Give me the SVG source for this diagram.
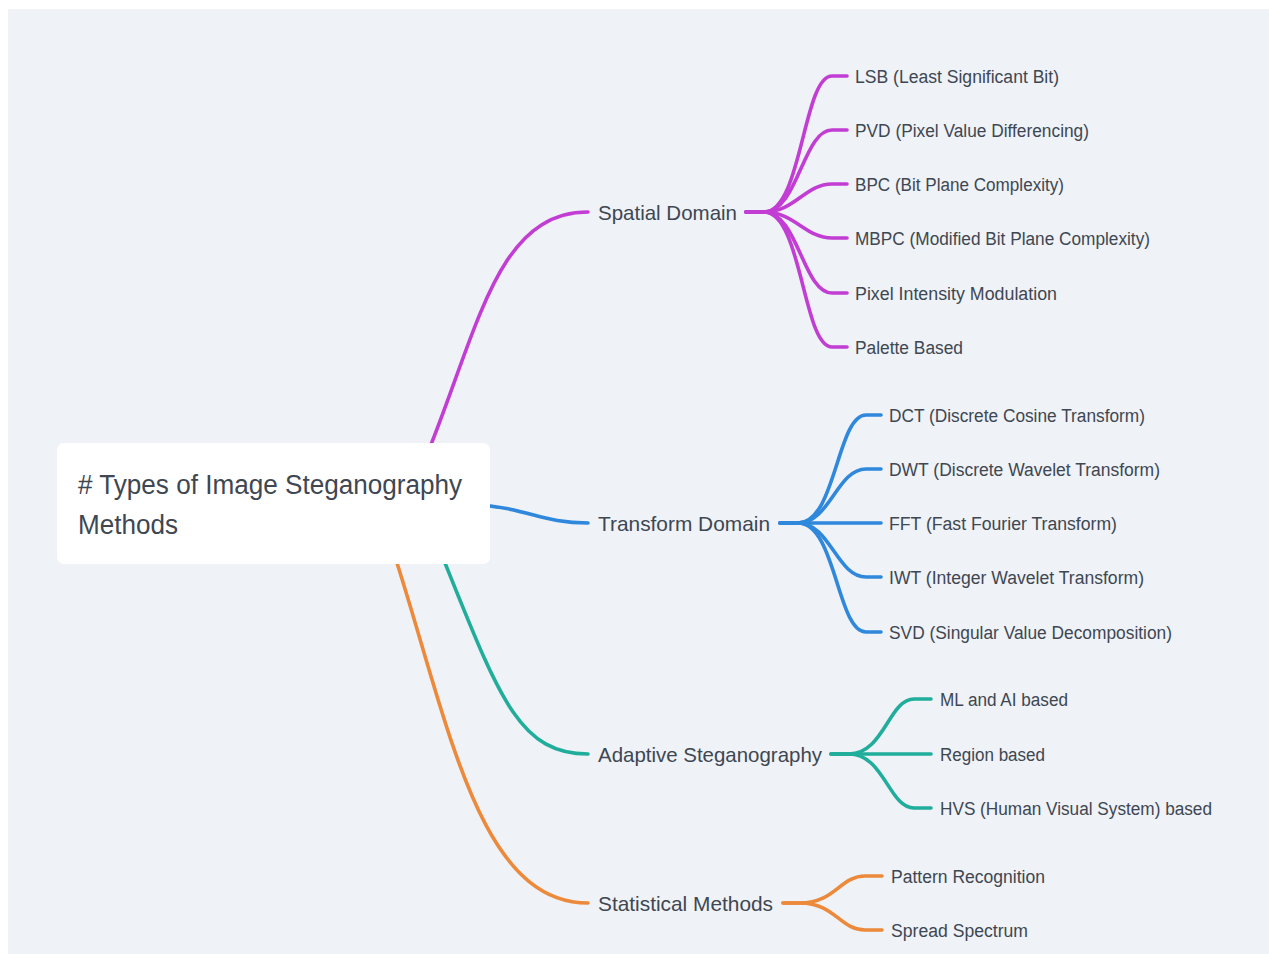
<svg xmlns="http://www.w3.org/2000/svg" width="1269" height="954" viewBox="0 0 1269 954">
<style>
.c{fill:none;stroke-width:3.6;stroke-linecap:round;stroke-linejoin:round}
.p{stroke:#c23dd3}.b{stroke:#2f88dc}.g{stroke:#21ad9b}.o{stroke:#ec893a}
text{font-family:"Liberation Sans",Arial,sans-serif;fill:#3e4752}
.t1{font-size:18px}
.t2{font-size:21px}
.t0{font-size:27px}
</style>
<rect x="0" y="0" width="1269" height="954" fill="#ffffff"/>
<rect x="8" y="9" width="1261" height="945" fill="#eff2f6"/>
<g id="connectors">
<path class="c p" d="M426 456 L432 442 C480 320 500 212 588 212"/>
<path class="c b" d="M470 504 C530 508 540 523 588 523"/>
<path class="c g" d="M438 548 L445 563 C500 700 520 754 588 754"/>
<path class="c o" d="M392 548 L397 563 C450 730 480 903 588 903"/>
<path class="c p" d="M746 212 L764 212 C802 212 803 76 832 76 L847 76"/>
<path class="c p" d="M746 212 L764 212 C798 212 803 130 832 130 L847 130"/>
<path class="c p" d="M746 212 L764 212 C795 212 805 184 832 184 L847 184"/>
<path class="c p" d="M746 212 L764 212 C795 212 805 238 832 238 L847 238"/>
<path class="c p" d="M746 212 L764 212 C798 212 803 293 832 293 L847 293"/>
<path class="c p" d="M746 212 L764 212 C802 212 803 347 832 347 L847 347"/>
<path class="c b" d="M780 523 L798 523 C836 523 837 415 866 415 L881 415"/>
<path class="c b" d="M780 523 L798 523 C830 523 837 469 866 469 L881 469"/>
<path class="c b" d="M780 523 L881 523"/>
<path class="c b" d="M780 523 L798 523 C830 523 837 577 866 577 L881 577"/>
<path class="c b" d="M780 523 L798 523 C836 523 837 632 866 632 L881 632"/>
<path class="c g" d="M831 754 L849 754 C884 754 889 699 914 699 L931 699"/>
<path class="c g" d="M831 754 L931 754"/>
<path class="c g" d="M831 754 L849 754 C884 754 889 808 914 808 L931 808"/>
<path class="c o" d="M783 903 L800 903 C835 903 840 876 865 876 L882 876"/>
<path class="c o" d="M783 903 L800 903 C835 903 840 930 865 930 L882 930"/>
</g>
<g id="root">
<rect x="57" y="443" width="433" height="121" rx="7" fill="#ffffff"/>
<text class="t0" x="78" y="494" textLength="384" lengthAdjust="spacingAndGlyphs"># Types of Image Steganography</text>
<text class="t0" x="78" y="534" textLength="100" lengthAdjust="spacingAndGlyphs">Methods</text>
</g>
<g id="spatial"><text class="t2" x="598" y="220" textLength="139" lengthAdjust="spacingAndGlyphs">Spatial Domain</text></g>
<g id="transform"><text class="t2" x="598" y="531" textLength="172" lengthAdjust="spacingAndGlyphs">Transform Domain</text></g>
<g id="adaptive"><text class="t2" x="598" y="762" textLength="224" lengthAdjust="spacingAndGlyphs">Adaptive Steganography</text></g>
<g id="statistical"><text class="t2" x="598" y="911" textLength="175" lengthAdjust="spacingAndGlyphs">Statistical Methods</text></g>
<g id="lsb"><text class="t1" x="855" y="83" textLength="204" lengthAdjust="spacingAndGlyphs">LSB (Least Significant Bit)</text></g>
<g id="pvd"><text class="t1" x="855" y="137" textLength="234" lengthAdjust="spacingAndGlyphs">PVD (Pixel Value Differencing)</text></g>
<g id="bpc"><text class="t1" x="855" y="191" textLength="209" lengthAdjust="spacingAndGlyphs">BPC (Bit Plane Complexity)</text></g>
<g id="mbpc"><text class="t1" x="855" y="245" textLength="295" lengthAdjust="spacingAndGlyphs">MBPC (Modified Bit Plane Complexity)</text></g>
<g id="pim"><text class="t1" x="855" y="300" textLength="202" lengthAdjust="spacingAndGlyphs">Pixel Intensity Modulation</text></g>
<g id="palette"><text class="t1" x="855" y="354" textLength="108" lengthAdjust="spacingAndGlyphs">Palette Based</text></g>
<g id="dct"><text class="t1" x="889" y="422" textLength="256" lengthAdjust="spacingAndGlyphs">DCT (Discrete Cosine Transform)</text></g>
<g id="dwt"><text class="t1" x="889" y="476" textLength="271" lengthAdjust="spacingAndGlyphs">DWT (Discrete Wavelet Transform)</text></g>
<g id="fft"><text class="t1" x="889" y="530" textLength="228" lengthAdjust="spacingAndGlyphs">FFT (Fast Fourier Transform)</text></g>
<g id="iwt"><text class="t1" x="889" y="584" textLength="255" lengthAdjust="spacingAndGlyphs">IWT (Integer Wavelet Transform)</text></g>
<g id="svd"><text class="t1" x="889" y="639" textLength="283" lengthAdjust="spacingAndGlyphs">SVD (Singular Value Decomposition)</text></g>
<g id="mlai"><text class="t1" x="940" y="706" textLength="128" lengthAdjust="spacingAndGlyphs">ML and AI based</text></g>
<g id="region"><text class="t1" x="940" y="761" textLength="105" lengthAdjust="spacingAndGlyphs">Region based</text></g>
<g id="hvs"><text class="t1" x="940" y="815" textLength="272" lengthAdjust="spacingAndGlyphs">HVS (Human Visual System) based</text></g>
<g id="pattern"><text class="t1" x="891" y="883" textLength="154" lengthAdjust="spacingAndGlyphs">Pattern Recognition</text></g>
<g id="spread"><text class="t1" x="891" y="937" textLength="137" lengthAdjust="spacingAndGlyphs">Spread Spectrum</text></g>
</svg>
